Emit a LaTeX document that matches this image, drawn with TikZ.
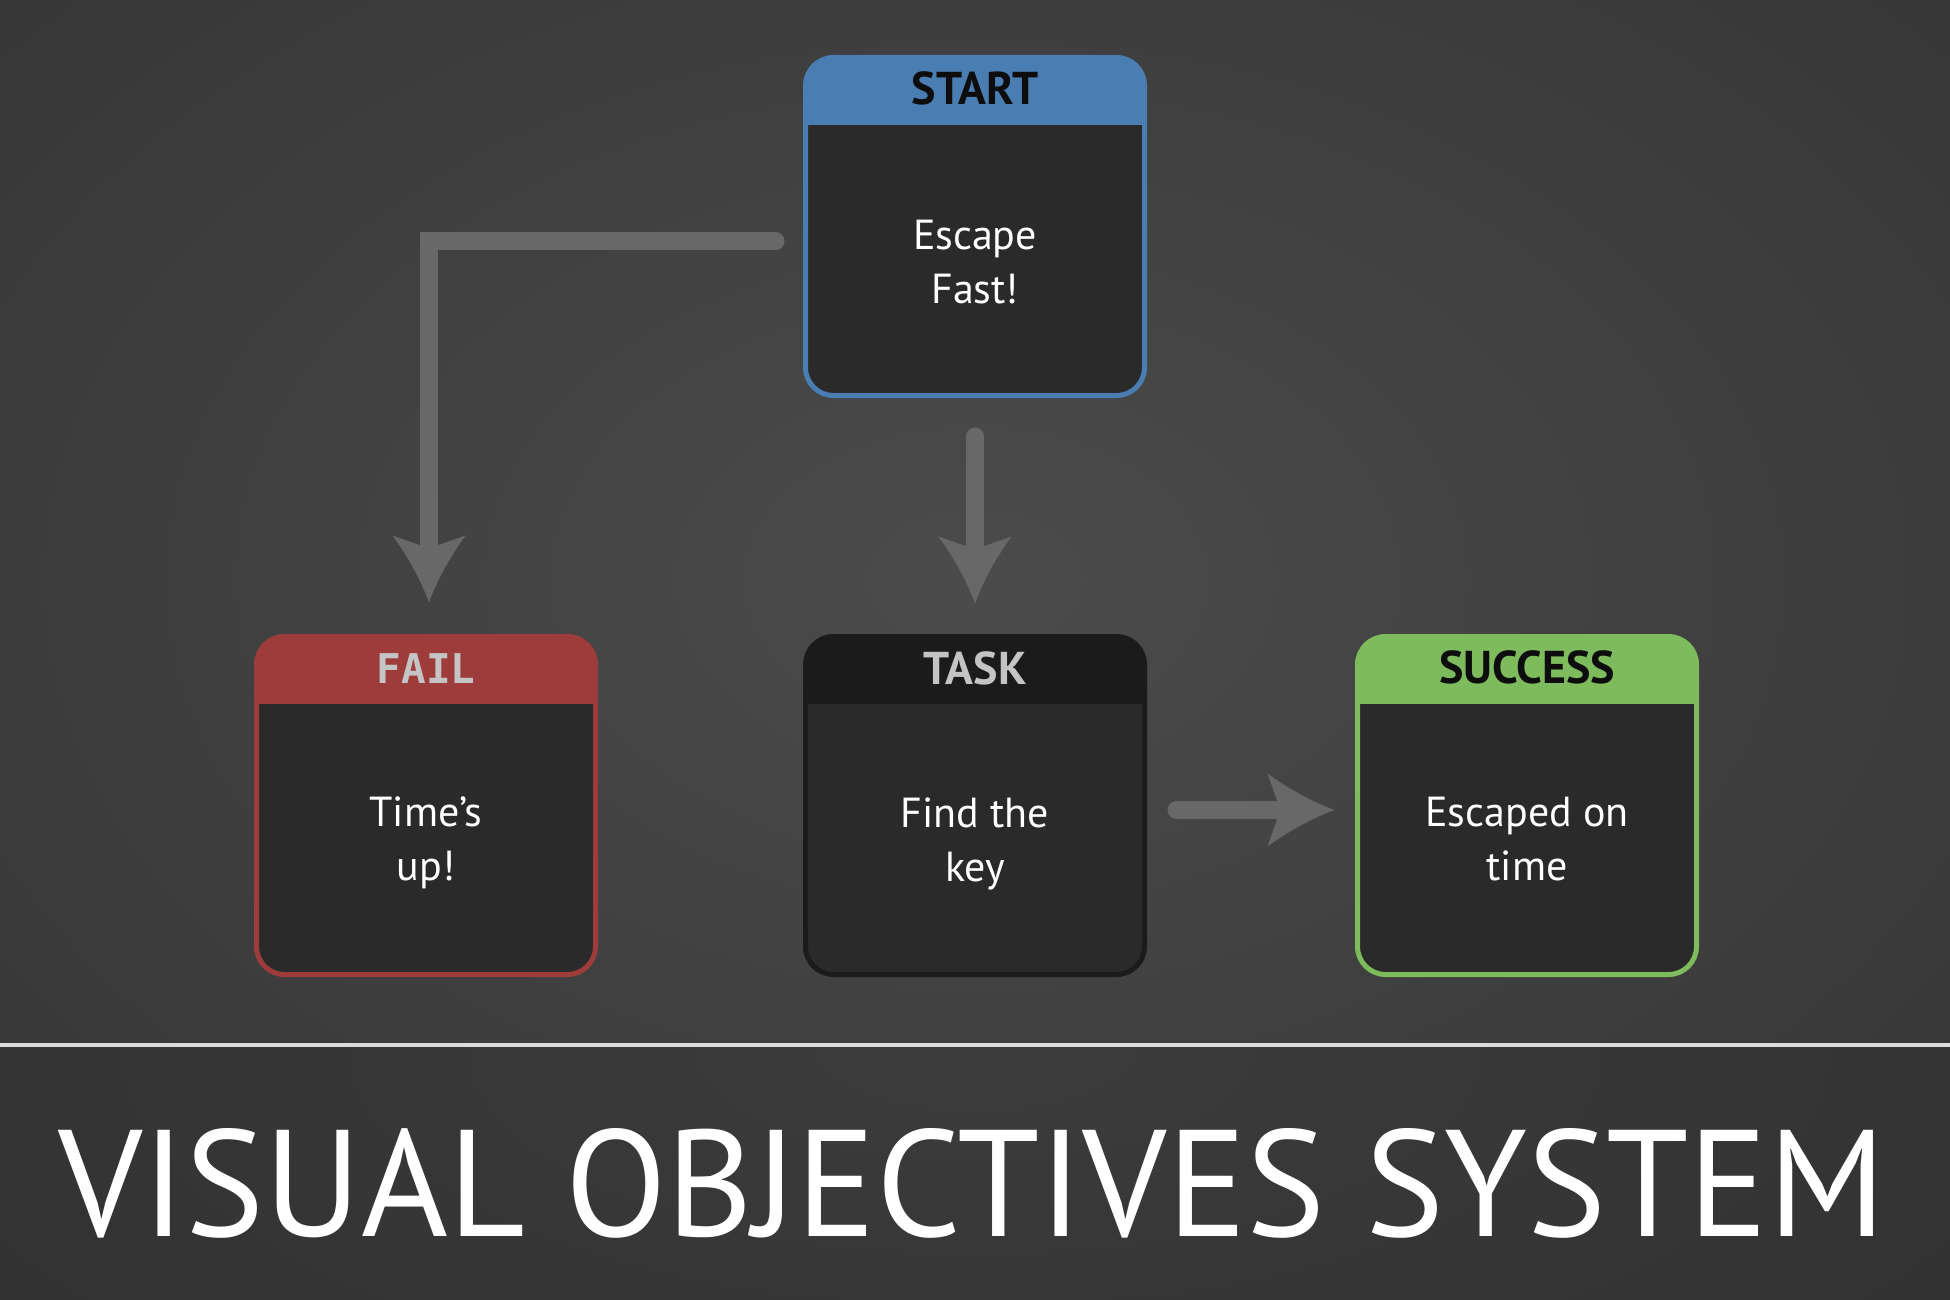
\documentclass[tikz,border=0pt]{standalone}
\usepackage{fontspec}
\setmainfont{PT Sans}
\newfontfamily\monofnt{DejaVu Sans Mono}
\usetikzlibrary{arrows.meta}
\definecolor{bluec}{HTML}{4A7EB2}
\definecolor{redc}{HTML}{9E3B3B}
\definecolor{greenc}{HTML}{7DBB5C}
\definecolor{taskc}{HTML}{1B1B1B}
\definecolor{bodyc}{HTML}{2A2A2A}
\definecolor{arrowc}{HTML}{686868}
\definecolor{bgc}{HTML}{2A2A2A}
\definecolor{sepc}{HTML}{DCDCDC}
\definecolor{darktxt}{HTML}{0D0D0D}
\definecolor{lighttxt}{HTML}{C4C4C4}
\pgfdeclareradialshading{topglow}{\pgfpoint{0bp}{0bp}}{rgb(0bp)=(0.295,0.295,0.295); rgb(25bp)=(0.165,0.165,0.165); rgb(50bp)=(0.165,0.165,0.165)}
\pgfdeclareradialshading{botglow}{\pgfpoint{0bp}{0bp}}{rgb(0bp)=(0.235,0.235,0.235); rgb(25bp)=(0.160,0.160,0.160); rgb(50bp)=(0.160,0.160,0.160)}
\pgfdeclarearrow{
  name = CurvedHead,
  setup code = {
    \pgfarrowssettipend{0pt}
    \pgfarrowssetbackend{-67pt}
    \pgfarrowssetlineend{-57pt}
    \pgfarrowshullpoint{0pt}{0pt}
    \pgfarrowsupperhullpoint{-67pt}{36.5pt}
  },
  drawing code = {
    \pgfpathmoveto{\pgfpoint{0pt}{0pt}}
    \pgfpathcurveto{\pgfpoint{-25pt}{9pt}}{\pgfpoint{-50pt}{24pt}}{\pgfpoint{-67pt}{36.5pt}}
    \pgfpathlineto{\pgfpoint{-57pt}{8pt}}
    \pgfpathlineto{\pgfpoint{-57pt}{-8pt}}
    \pgfpathlineto{\pgfpoint{-67pt}{-36.5pt}}
    \pgfpathcurveto{\pgfpoint{-50pt}{-24pt}}{\pgfpoint{-25pt}{-9pt}}{\pgfpoint{0pt}{0pt}}
    \pgfpathclose
    \pgfusepathqfill
  }
}
\tikzset{
  objbox/.style={rectangle, rounded corners=28pt, line width=5pt, draw=#1, fill=bodyc,
    minimum width=339pt, minimum height=338pt, inner sep=0pt,
    path picture={\fill[#1, sharp corners] ([xshift=-5pt,yshift=5pt]path picture bounding box.north west) rectangle ([xshift=5pt,yshift=-67.5pt]path picture bounding box.north east);}},
  hdrtxt/.style={anchor=base, inner sep=0pt, font=\fontsize{46pt}{52pt}\selectfont\bfseries},
  monotxt/.style={anchor=base, inner sep=0pt, font=\fontsize{41pt}{48pt}\selectfont\monofnt\bfseries},
  bodytxt/.style={anchor=center, inner sep=0pt, align=center, text=white, font=\fontsize{42pt}{54pt}\selectfont},
  conn/.style={draw=arrowc, line width=18pt, line cap=round, line join=miter,
    -{CurvedHead[fill=arrowc]}},
  titletxt/.style={anchor=base, inner sep=0pt, text=white}
}
\begin{document}
\begin{tikzpicture}[x=1pt,y=-1pt]
\useasboundingbox (0,0) rectangle (1950,1300);
% background
\fill[bgc] (0,0) rectangle (1950,1300);
\begin{scope}
  \clip (0,0) rectangle (1950,1043);
  \shade[shading=topglow] (975,580) ellipse (2100 and 1400);
\end{scope}
\begin{scope}
  \clip (0,1047) rectangle (1950,1300);
  \shade[shading=botglow] (975,1047) ellipse (2200 and 900);
\end{scope}
\draw[sepc, line width=4pt] (0,1045) -- (1950,1045);

% boxes
\node[objbox=bluec]  (start)   at (975,226.5) {};
\node[objbox=redc]   (fail)    at (426,805.5) {};
\node[objbox=taskc]  (task)    at (975,805.5) {};
\node[objbox=greenc] (success) at (1527,805.5) {};

% headers
\node[hdrtxt, text=darktxt]  (startH)   at ([yshift=-50pt]start.north) {START};
\node[monotxt, text=lighttxt] (failH)   at ([yshift=-49pt]fail.north) {FAIL};
\node[hdrtxt, text=lighttxt] (taskH)    at ([yshift=-50.5pt]task.north) {TASK};
\node[hdrtxt, text=darktxt]  (successH) at ([yshift=-49.5pt]success.north) {SUCCESS};

% bodies
\node[bodytxt] (startB)   at ([yshift=-211pt]start.north) {\strut Escape\\Fast!\strut};
\node[bodytxt] (failB)    at ([yshift=-208.5pt]fail.north) {\strut Time’s\\up!\strut};
\node[bodytxt] (taskB)    at ([yshift=-209.5pt]task.north) {\strut Find the\\key\strut};
\node[bodytxt] (successB) at ([yshift=-208.5pt]success.north) {\strut Escaped on\\time\strut};

% connectors
\draw[conn, shorten <=27.5pt, shorten >=31.5pt] ([yshift=-14.5pt]start.west) -| ([xshift=3pt]fail.north);
\draw[conn, shorten <=38.5pt, shorten >=30.5pt] (start.south) -- (task.north);
\draw[conn, shorten <=29.5pt, shorten >=20.5pt] ([yshift=-4.5pt]task.east) -- ([yshift=-4.5pt]success.west);

% title
\node[titletxt] (title) at (972,1236) {\resizebox{1826pt}{108pt}{VISUAL OBJECTIVES SYSTEM}};
\end{tikzpicture}
\end{document}
